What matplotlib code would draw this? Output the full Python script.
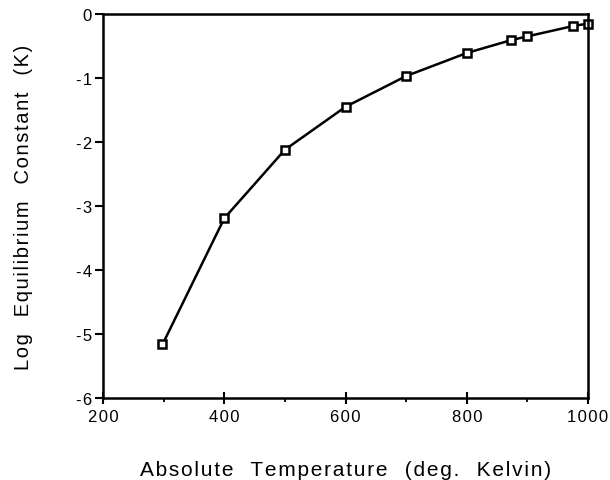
import matplotlib
matplotlib.use('Agg')
import matplotlib.pyplot as plt
from matplotlib.ticker import MultipleLocator, FuncFormatter

# temperature (K) vs log equilibrium constant
temperature = [298, 400, 500, 600, 700, 800, 873, 900, 975, 1000]
log_k = [-5.16, -3.19, -2.12, -1.45, -0.97, -0.61, -0.41, -0.35, -0.19, -0.15]

plt.rcParams['font.family'] = ['Liberation Sans', 'DejaVu Sans']
plt.rcParams['axes.unicode_minus'] = False

HAIR = '\u200a'

def spaced(text, gap='   ', track=True):
    # old plot had wide letter tracking, fake it with hair spaces
    words = text.split()
    if track:
        words = [HAIR.join(w) for w in words]
    return gap.join(words)

fig = plt.figure(figsize=(6.1, 4.81), dpi=100)
ax = fig.add_axes([0.169, 0.170, 0.795, 0.799])

ax.plot(temperature, log_k, color='black', lw=1.8, marker='s', ms=6,
        mfc='white', mec='black', mew=1.8, clip_on=False)

ax.set_xlim(200, 1000)
ax.set_ylim(-6, 0)
ax.xaxis.set_major_locator(MultipleLocator(200))
ax.xaxis.set_minor_locator(MultipleLocator(100))
ax.yaxis.set_major_locator(MultipleLocator(1))
fmt = FuncFormatter(lambda v, pos: spaced('%d' % v))
ax.xaxis.set_major_formatter(fmt)
ax.yaxis.set_major_formatter(fmt)

for s in ax.spines.values():
    s.set_linewidth(1.8)

ax.tick_params(axis='x', which='major', direction='inout', length=9, width=1.5,
               labelsize=12, pad=3)
ax.tick_params(axis='x', which='minor', direction='out', length=3, width=1.3)
ax.tick_params(axis='y', which='major', direction='out', length=6, width=1.5,
               labelsize=12, pad=2)

ax.set_xlabel(spaced('Absolute Temperature (deg. Kelvin)'), fontsize=15, labelpad=26)
ax.set_ylabel(spaced('Log Equilibrium Constant (K)'), fontsize=14.5, labelpad=31)

fig.savefig('out.png', dpi=100)
